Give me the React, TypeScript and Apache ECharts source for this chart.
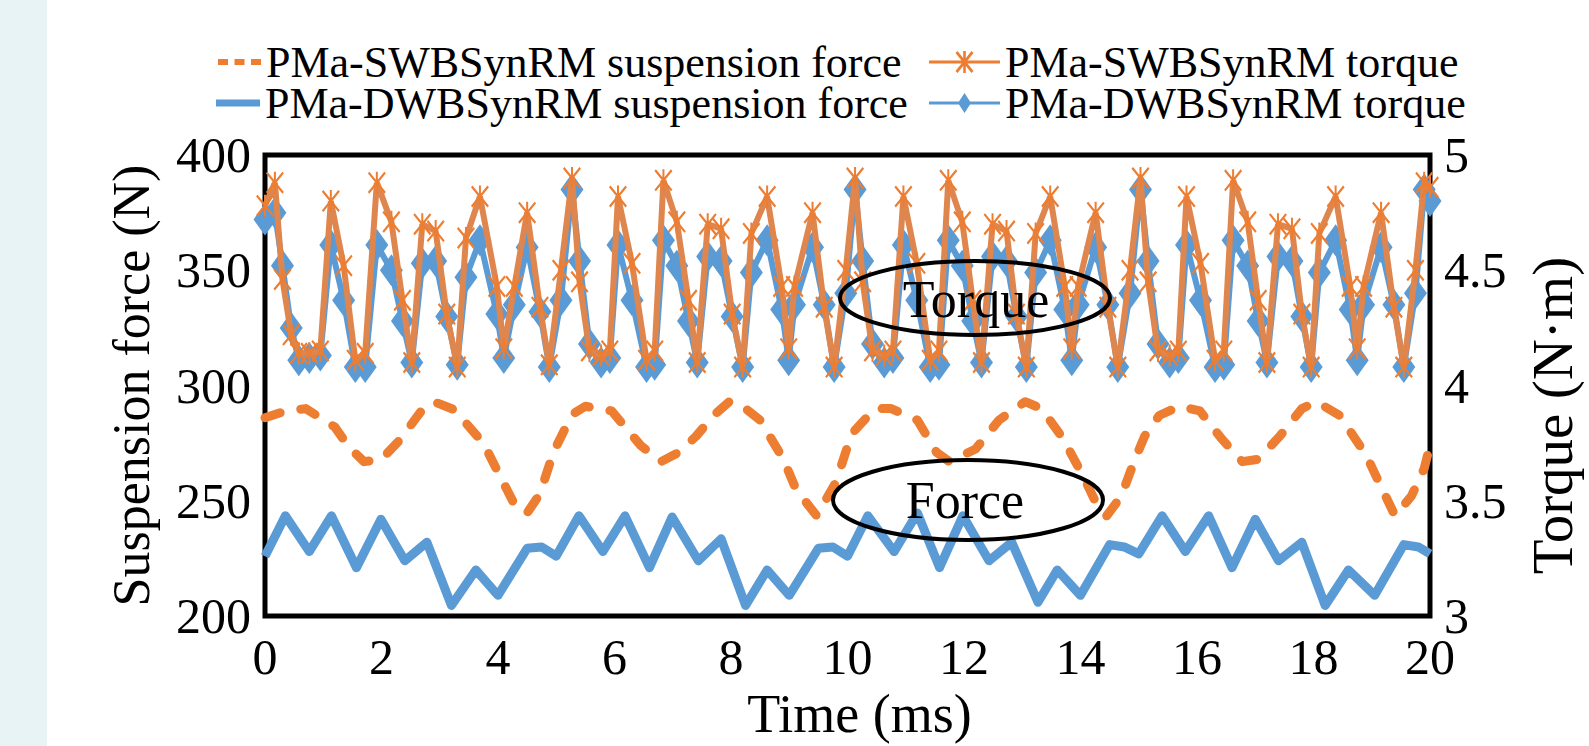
import React, { useEffect, useRef } from "react";
import * as echarts from "echarts";

// ---------- DATA ----------
const SW_FORCE_NAME = "PMa-SWBSynRM suspension force";
const SW_TORQUE_NAME = "PMa-SWBSynRM torque";
const DW_FORCE_NAME = "PMa-DWBSynRM suspension force";
const DW_TORQUE_NAME = "PMa-DWBSynRM torque";

// Suspension force, PMa-SWBSynRM (N)
const swForceTime = [0, 0.35, 0.7, 1.2, 1.45, 1.7, 2.0, 2.3, 2.7, 2.9, 3.25, 3.75, 4.15, 4.3, 4.5, 4.72, 4.95, 5.27, 5.5, 5.95, 6.45, 6.8, 7.1, 7.4, 7.7, 7.97, 8.15, 8.5, 8.9, 9.1, 9.3, 9.47, 9.8, 10.07, 10.47, 10.75, 11.2, 11.53, 11.75, 12.2, 12.6, 13.05, 13.33, 13.7, 14.06, 14.25, 14.45, 14.7, 14.92, 15.1, 15.35, 15.7, 16.05, 16.42, 16.78, 17.05, 17.42, 17.8, 18.05, 18.45, 18.9, 19.2, 19.4, 19.68, 19.9, 20];
const swForce = [286, 289, 290, 282, 273, 267, 268, 276, 289.5, 293, 289.5, 275, 255, 247.6, 244.7, 253, 271, 287.4, 291, 289, 274, 267, 271, 278, 287, 293, 292, 285, 268, 256, 249, 243.5, 258, 279, 290, 290, 285, 271, 267, 272.5, 285, 293, 290, 277, 260, 250, 243.5, 252, 267, 278, 287, 291, 289, 277, 267, 268, 278, 290, 293, 287, 270, 254, 243.5, 252, 264, 274];

// Suspension force, PMa-DWBSynRM (N)
const dwForceTime = [0, 0.35, 0.76, 1.14, 1.57, 1.99, 2.4, 2.78, 3.2, 3.62, 4.0, 4.5, 4.75, 5.0, 5.39, 5.8, 6.18, 6.6, 6.99, 7.44, 7.83, 8.25, 8.62, 9.0, 9.5, 9.75, 10.0, 10.35, 10.8, 11.2, 11.58, 11.98, 12.43, 12.82, 13.27, 13.6, 14.0, 14.5, 14.75, 15.0, 15.4, 15.8, 16.2, 16.6, 17.0, 17.4, 17.8, 18.2, 18.6, 19.05, 19.55, 19.8, 20];
const dwForce = [226, 243.5, 228, 243.5, 221, 242, 224, 232, 204.6, 220, 209, 229.4, 230, 226, 243.5, 228, 243.5, 221, 243, 224, 233.5, 204.6, 220, 209, 229.4, 230, 226, 243.5, 228, 244.7, 221, 243.5, 224, 232, 206, 220, 209, 231, 230, 227, 243.5, 228, 243.5, 221, 242, 224, 232, 204.6, 220, 209, 231, 230, 227];

// Torque (N·m), shared sampling instants
const torqueTime = [
  0, 0.17, 0.3, 0.45, 0.58, 0.76, 0.95, 1.13, 1.35, 1.55, 1.72, 1.92, 2.17, 2.36, 2.52, 2.7, 2.93, 3.12, 3.3, 3.45, 3.69, 3.98, 4.1, 4.28, 4.5, 4.72, 4.88, 5.08,
  5.27, 5.4, 5.57, 5.77, 5.92, 6.06, 6.3, 6.55, 6.69, 6.84, 7.07, 7.27, 7.42, 7.6, 7.83, 8.02, 8.2, 8.35, 8.62, 8.87, 8.99, 9.09, 9.4, 9.6, 9.77, 9.97,
  10.13, 10.26, 10.43, 10.63, 10.78, 10.96, 11.19, 11.42, 11.57, 11.73, 11.97, 12.15, 12.3, 12.49, 12.73, 12.9, 13.07, 13.23, 13.48, 13.73, 13.85, 13.96, 14.26, 14.47, 14.64, 14.85,
  15.03, 15.16, 15.33, 15.53, 15.68, 15.82, 16.06, 16.31, 16.46, 16.62, 16.87, 17.05, 17.2, 17.39, 17.63, 17.8, 17.96, 18.1, 18.38, 18.63, 18.75, 18.86, 19.16, 19.38, 19.55, 19.75, 19.9, 20,
];
const swTorque = [
  4.78, 4.88, 4.46, 4.22, 4.14, 4.14, 4.15, 4.80, 4.52, 4.11, 4.14, 4.88, 4.71, 4.37, 4.10, 4.70, 4.67, 4.31, 4.08, 4.64, 4.82, 4.43, 4.16, 4.43, 4.75, 4.34, 4.09, 4.50,
  4.90, 4.45, 4.15, 4.13, 4.15, 4.82, 4.53, 4.11, 4.15, 4.89, 4.71, 4.37, 4.10, 4.70, 4.68, 4.31, 4.08, 4.66, 4.82, 4.43, 4.16, 4.43, 4.75, 4.34, 4.08, 4.50,
  4.90, 4.45, 4.15, 4.13, 4.15, 4.82, 4.53, 4.11, 4.15, 4.89, 4.71, 4.37, 4.10, 4.70, 4.67, 4.31, 4.08, 4.66, 4.82, 4.43, 4.16, 4.43, 4.75, 4.34, 4.08, 4.50,
  4.90, 4.45, 4.15, 4.13, 4.15, 4.82, 4.53, 4.11, 4.15, 4.89, 4.71, 4.37, 4.10, 4.70, 4.68, 4.31, 4.08, 4.66, 4.82, 4.43, 4.16, 4.43, 4.75, 4.34, 4.08, 4.50, 4.88, 4.86,
];
const dwTorque = [
  4.72, 4.75, 4.52, 4.25, 4.11, 4.12, 4.13, 4.61, 4.37, 4.08, 4.08, 4.61, 4.50, 4.28, 4.10, 4.53, 4.54, 4.30, 4.09, 4.47, 4.63, 4.31, 4.12, 4.35, 4.60, 4.32, 4.08, 4.37,
  4.85, 4.54, 4.18, 4.10, 4.12, 4.61, 4.37, 4.08, 4.09, 4.63, 4.52, 4.28, 4.10, 4.56, 4.54, 4.30, 4.08, 4.49, 4.63, 4.33, 4.11, 4.35, 4.60, 4.35, 4.08, 4.40,
  4.85, 4.54, 4.18, 4.10, 4.12, 4.61, 4.37, 4.08, 4.09, 4.63, 4.52, 4.28, 4.10, 4.56, 4.54, 4.30, 4.08, 4.49, 4.63, 4.33, 4.11, 4.35, 4.60, 4.35, 4.08, 4.40,
  4.85, 4.54, 4.18, 4.10, 4.12, 4.61, 4.37, 4.08, 4.09, 4.63, 4.52, 4.28, 4.10, 4.56, 4.54, 4.30, 4.08, 4.49, 4.63, 4.33, 4.11, 4.35, 4.60, 4.35, 4.08, 4.40, 4.85, 4.80,
];

// Axis ranges / ticks
const timeMin = 0, timeMax = 20, timeStep = 2;
const forceMin = 200, forceMax = 400, forceStep = 50;
const torqueMin = 3, torqueMax = 5, torqueStep = 0.5;

// ---------- STYLE ----------
const ORANGE = "#ED7D31";
const BLUE = "#5B9BD5";
const FONT = "Liberation Serif";

const STAR = "path://M9,0h2v20h-2z M1,1.5L2.5,0L19,18.5L17.5,20Z M17.5,0L19,1.5L2.5,20L1,18.5Z";
const ICON_DASH = "path://M0,0h10v6h-10z M16.5,0h10v6h-10z M33,0h10v6h-10z";
const ICON_STAR_LINE = "path://M0,9.5h71v3h-71z M34.2,0h2.6v22h-2.6z M26.5,2L28.5,0L44.5,20L42.5,22Z M42.5,0L44.5,2L28.5,22L26.5,20Z";
const ICON_DIAMOND_LINE = "path://M0,9.5h71v3h-71z M35.5,1L42,11L35.5,21L29,11Z";

const zip = (xs: number[], ys: number[]) => xs.map((x, i) => [x, ys[i]]);

export default function App() {
  const ref = useRef<HTMLDivElement>(null);
  useEffect(() => {
    if (!ref.current) return;
    const chart = echarts.init(ref.current, undefined, { renderer: "svg" });
    const legendText = { fontFamily: FONT, fontSize: 44, color: "#000", lineHeight: 38 };
    const axisLabel = { fontFamily: FONT, fontSize: 50, color: "#000" };
    const nameStyle = { fontFamily: FONT, fontSize: 52, color: "#000" };
    chart.setOption({
      animation: false,
      backgroundColor: "#fff",
      textStyle: { fontFamily: FONT },
      grid: {
        left: 265,
        top: 155,
        width: 1188,
        height: 483,
        show: true,
        borderColor: "#000",
        borderWidth: 5,
        backgroundColor: "#fff",
        z: 0,
      },
      legend: [
        { data: [{ name: SW_FORCE_NAME, icon: ICON_DASH }], left: 218, top: 40, itemWidth: 43, itemHeight: 6, padding: 0, textStyle: legendText, selectedMode: false },
        { data: [{ name: SW_TORQUE_NAME, icon: ICON_STAR_LINE }], left: 929, top: 40, itemWidth: 71, itemHeight: 22, padding: 0, textStyle: legendText, selectedMode: false },
        { data: [{ name: DW_FORCE_NAME, icon: "rect" }], left: 216, top: 81, itemWidth: 44, itemHeight: 7, padding: 0, textStyle: legendText, selectedMode: false },
        { data: [{ name: DW_TORQUE_NAME, icon: ICON_DIAMOND_LINE }], left: 929, top: 81, itemWidth: 71, itemHeight: 20, padding: 0, textStyle: legendText, selectedMode: false },
      ],
      xAxis: {
        type: "value",
        min: timeMin,
        max: timeMax,
        interval: timeStep,
        name: "Time (ms)",
        nameLocation: "middle",
        nameGap: 58,
        nameTextStyle: { ...nameStyle, fontSize: 54, padding: [0, 0, 0, 24] },
        axisLine: { show: false },
        axisTick: { show: false },
        splitLine: { show: false },
        axisLabel: { ...axisLabel, margin: 16 },
      },
      yAxis: [
        {
          type: "value",
          min: forceMin,
          max: forceMax,
          interval: forceStep,
          name: "Suspension force (N)",
          nameLocation: "middle",
          nameRotate: 90,
          nameGap: 108,
          nameTextStyle: nameStyle,
          axisLine: { show: false },
          axisTick: { show: false },
          splitLine: { show: false },
          axisLabel: { ...axisLabel, margin: 14 },
        },
        {
          type: "value",
          position: "right",
          min: torqueMin,
          max: torqueMax,
          interval: torqueStep,
          name: "Torque (N·m)",
          nameLocation: "middle",
          nameRotate: 90,
          nameGap: 94,
          nameTextStyle: { ...nameStyle, fontSize: 57, padding: [0, 60, 0, 0] },
          axisLine: { show: false },
          axisTick: { show: false },
          splitLine: { show: false },
          axisLabel: { ...axisLabel, margin: 14, padding: [0, 0, 12, 0] },
        },
      ],
      series: [
        {
          name: DW_TORQUE_NAME,
          type: "line",
          yAxisIndex: 1,
          data: zip(torqueTime, dwTorque),
          symbol: "diamond",
          symbolSize: [23, 32],
          showAllSymbol: true,
          lineStyle: { color: BLUE, width: 6 },
          itemStyle: { color: BLUE },
          z: 2,
          silent: true,
        },
        {
          name: SW_TORQUE_NAME,
          type: "line",
          yAxisIndex: 1,
          data: zip(torqueTime, swTorque),
          symbol: STAR,
          symbolSize: [18, 22],
          showAllSymbol: true,
          lineStyle: { color: "#DE864E", width: 6 },
          itemStyle: { color: ORANGE },
          z: 3,
          silent: true,
        },
        {
          name: SW_FORCE_NAME,
          type: "line",
          yAxisIndex: 0,
          data: zip(swForceTime, swForce),
          symbol: "none",
          lineStyle: { color: ORANGE, width: 9, type: [16, 21], cap: "round", join: "round" },
          itemStyle: { color: ORANGE },
          z: 2,
          silent: true,
        },
        {
          name: DW_FORCE_NAME,
          type: "line",
          yAxisIndex: 0,
          data: zip(dwForceTime, dwForce),
          symbol: "none",
          lineStyle: { color: BLUE, width: 9, join: "round" },
          itemStyle: { color: BLUE },
          z: 2,
          silent: true,
        },
      ],
      graphic: [
        { type: "rect", left: 0, top: 0, shape: { width: 47, height: 746 }, style: { fill: "#E7F3F5" }, z: 0 },
        { type: "ellipse", shape: { cx: 975, cy: 298, rx: 135, ry: 37 }, style: { fill: "none", stroke: "#000", lineWidth: 4 }, z: 100 },
        { type: "text", x: 976, y: 299, style: { text: "Torque", font: `52px ${FONT}`, fill: "#000", align: "center", verticalAlign: "middle" }, z: 101 },
        { type: "ellipse", shape: { cx: 968, cy: 500, rx: 135, ry: 40 }, style: { fill: "none", stroke: "#000", lineWidth: 4 }, z: 100 },
        { type: "text", x: 965, y: 500, style: { text: "Force", font: `52px ${FONT}`, fill: "#000", align: "center", verticalAlign: "middle" }, z: 101 },
      ],
    });
    return () => chart.dispose();
  }, []);
  return (
    <div
      ref={ref}
      style={{ position: "fixed", left: 0, top: 0, width: 1589, height: 746, background: "#fff" }}
    />
  );
}
